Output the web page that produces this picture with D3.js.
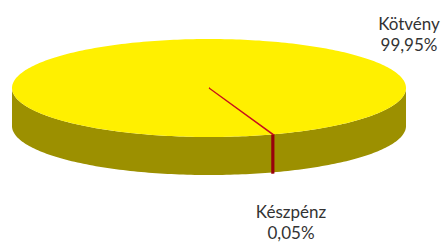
<!DOCTYPE html>
<html>
<head>
<meta charset="utf-8">
<script src="https://cdn.jsdelivr.net/npm/d3@7"></script>
<style>
  body { margin:0; background:#fff; }
  svg text { font-family: Lato, "Open Sans", sans-serif; fill:#333; }
</style>
</head>
<body>
<svg id="chart" width="446" height="242"></svg>
<script>
var categories = ["Kötvény", "Készpénz"];
var values = [99.95, 0.05];
var valueLabels = ["99,95%", "0,05%"];
var topColors = ["#fff000", "#c8101a"];
var sideColors = ["#9c9000", "#98000c"];

var svg = d3.select("#chart");
var cx = 209, cy = 88, rx = 197, ry = 49, depth = 38;

// boundary between the two slices sits at ~161deg (d3 angle, 0 = 12 o'clock)
var boundary = 161 * Math.PI / 180;
var total = d3.sum(values);
var start = boundary - 2 * Math.PI * values[0] / total;

var pie = d3.pie().sort(null).startAngle(start).endAngle(start + 2 * Math.PI);
var arcs = pie(values);

var pt = function(a, dy){
   return [cx + rx * Math.sin(a), cy - ry * Math.cos(a) + (dy || 0)];
};
var line = d3.line();

var sample = function(a0, a1, dy){
   var n = Math.max(2, Math.ceil(Math.abs(a1 - a0) / 0.02));
   var out = [];
   for(var i = 0; i <= n; i++) out.push(pt(a0 + (a1 - a0) * i / n, dy));
   return out;
};

var topPath = function(d){
   var p = [[cx, cy]].concat(sample(d.startAngle, d.endAngle, 0));
   return line(p) + "Z";
};

// front-facing part of the wall: d3 angles in (90deg, 270deg) modulo 2pi
var wallPaths = function(d){
   var res = [];
   for(var k = -2; k <= 2; k++){
      var lo = Math.PI / 2 + k * 2 * Math.PI, hi = 3 * Math.PI / 2 + k * 2 * Math.PI;
      var b0 = Math.max(lo, d.startAngle), b1 = Math.min(hi, d.endAngle);
      if(b1 > b0){
         var p = sample(b0, b1, 0).concat(sample(b1, b0, depth));
         res.push(line(p) + "Z");
      }
   }
   return res;
};

var gWall = svg.append("g");
arcs.forEach(function(d, i){
   wallPaths(d).forEach(function(p){
      gWall.append("path").attr("d", p)
         .attr("fill", sideColors[i])
         .attr("stroke", i == 1 ? sideColors[i] : "none")
         .attr("stroke-width", i == 1 ? 2.6 : 0);
   });
});

var gTop = svg.append("g");
arcs.forEach(function(d, i){
   gTop.append("path").attr("d", topPath(d))
      .attr("fill", topColors[i])
      .attr("stroke", i == 1 ? topColors[i] : "none")
      .attr("stroke-width", i == 1 ? 1.2 : 0)
      .attr("stroke-linejoin", "miter");
});

// labels
var labelPos = [[409, 30], [291, 218]];
categories.forEach(function(c, i){
   var t = svg.append("text")
      .attr("x", labelPos[i][0]).attr("y", labelPos[i][1])
      .attr("text-anchor", "middle")
      .style("font-size", "17px");
   t.append("tspan").attr("x", labelPos[i][0]).text(c);
   t.append("tspan").attr("x", labelPos[i][0]).attr("dy", 21).text(valueLabels[i]);
});
</script>
</body>
</html>
